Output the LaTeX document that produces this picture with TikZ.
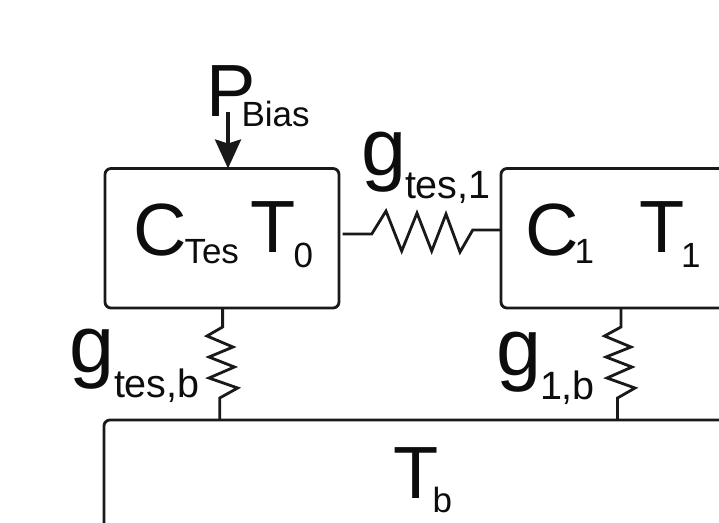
\documentclass[tikz,border=0pt]{standalone}
\usepackage{fontspec}
\setmainfont{Liberation Sans}
\usetikzlibrary{arrows.meta}
\newcommand{\fs}[1]{\fontsize{#1}{#1}\selectfont}
\tikzset{
  box/.style={draw=black!90,line width=2.8pt,rounded corners=6pt,anchor=north west,inner sep=0pt,outer sep=0pt},
  wire/.style={draw=black!90,line width=2.8pt,line join=miter},
  lab/.style={anchor=base west,inner sep=0pt,outer sep=0pt,text=black!95},
  big/.style={lab,font=\fs{74}},
  gee/.style={lab,font=\fs{81}},
  sub/.style={lab,font=\fs{35}},
  sublarge/.style={lab,font=\fs{39.5}},
  arrowline/.style={draw=black!90,line width=3.6pt,-{Stealth[length=29pt,width=26pt,inset=4pt]}}
}
\begin{document}
\begin{tikzpicture}[x=1pt,y=-1pt]
\useasboundingbox (0,0) rectangle (719,522);
\clip (0,0) rectangle (719,522);
\node[box,minimum width=234pt,minimum height=139.5pt] (tes) at (105,168.5) {};
\node[box,minimum width=300pt,minimum height=139.5pt] (one) at (501,168.5) {};
\node[box,minimum width=700pt,minimum height=200pt] (bath) at (104,420) {};
% labels
\node[big] (p) at (206,116) {P};
\node[sub] (pb) at (241.5,126) {Bias};
\node[big] (c0) at (133,255) {C};
\node[sub] (c0s) at (184.5,263) {Tes};
\node[big] (t0) at (250.5,252) {T};
\node[sub] (t0s) at (293.5,267) {0};
\node[gee] (g1) at (361,175) {g};
\node[sublarge] (g1s) at (405,198) {tes,1};
\node[big] (c1) at (525.5,255) {C};
\node[sub] (c1s) at (574.5,263) {1};
\node[big] (t1) at (639,252) {T};
\node[sub] (t1s) at (681,267) {1};
\node[gee] (gb) at (69.6,372) {g};
\node[sublarge] (gbs) at (114,397) {tes,b};
\node[gee] (hb) at (496,375.5) {g};
\node[sublarge] (hbs) at (540,399) {1,b};
\node[big] (tb) at (393.5,498) {T};
\node[sub] (tbs) at (432.5,512) {b};
% power arrow
\coordinate (pstart) at (228,112);
\draw[arrowline] (pstart) -- (pstart |- tes.north);
% horizontal link
\draw[wire] ([xshift=3.7pt,yshift=4.2pt]tes.east) -- ++(29,0) -- ++(14.3,-23) -- ++(15.7,40) -- ++(15.3,-38) -- ++(14.7,38) -- ++(14.3,-37) -- ++(14,38) -- ++(12.7,-22) -- (one.west |- 0,230);
% thermal links to bath
\coordinate (a) at (222.6,308);
\draw[wire] (a) -- ++(0,19) -- ++(-15.6,9) -- ++(26,11) -- ++(-24,10) -- ++(25.4,10) -- ++(-25.4,11) -- ++(28.7,10) -- ++(-18,10) -- (219.7,420);
\coordinate (b) at (621,308);
\draw[wire] (b) -- ++(0,19) -- ++(-16.5,9) -- ++(26.5,11) -- ++(-25,10) -- ++(26,10) -- ++(-25,11) -- ++(28,10) -- ++(-17.5,10) -- (617.5,420);
\end{tikzpicture}
\end{document}
